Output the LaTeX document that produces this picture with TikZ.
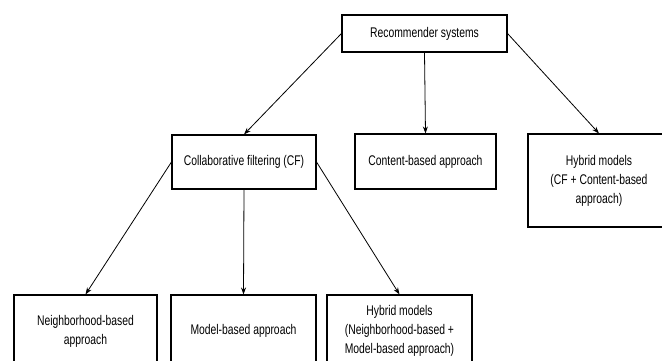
\documentclass[tikz,border=0pt]{standalone}
\usepackage{fontspec}
\usepackage{tikz}
\usetikzlibrary{%
	arrows.meta%
}
\newfontfamily\boxfont[FakeStretch=0.74]{Liberation Sans}
\tikzset{
	box/.style={draw,line width=1.1pt,align=center,inner sep=2pt,font=\boxfont\fontsize{14}{19}\selectfont},
	link/.style={-{Stealth[length=7pt,width=5pt]},line width=0.8pt}
}

\begin{document}
\begin{tikzpicture}[x=1pt,y=-1pt]
% Frame
\useasboundingbox (0,0) rectangle (662,360);
\clip (0,0) rectangle (662,360);
% Root
\node [box,minimum width=165pt,minimum height=37pt] (rec) at (424.5,33.5) {Recommender systems};
% Second level
\node [box,minimum width=144pt,minimum height=54pt] (cf) at (244,162) {Collaborative filtering (CF)};
\node [box,minimum width=141pt,minimum height=55pt] (content) at (425.5,161.5) {Content-based approach};
\node [box,minimum width=142pt,minimum height=93pt] (hybtop) at (599,180.5) {Hybrid models\\(CF + Content-based\\approach)};
% Third level
\node [box,minimum width=143pt,minimum height=72pt] (neigh) at (85.5,331) {Neighborhood-based\\approach};
\node [box,minimum width=145pt,minimum height=72pt] (model) at (243.5,331) {Model-based approach};
\node [box,minimum width=145pt,minimum height=72pt] (hybcf) at (399.5,331) {Hybrid models\\(Neighborhood-based +\\Model-based approach)};
% Links from the root
\draw [link] (rec.west) -- (cf.north);
\draw [link] (rec.south) -- (content.north);
\draw [link] (rec.east) -- (hybtop.north);
% Links from CF
\draw [link] (cf.west) -- (neigh.north);
\draw [link] (cf.south) -- (model.north);
\draw [link] (cf.east) -- (hybcf.north);
\end{tikzpicture}
\end{document}
